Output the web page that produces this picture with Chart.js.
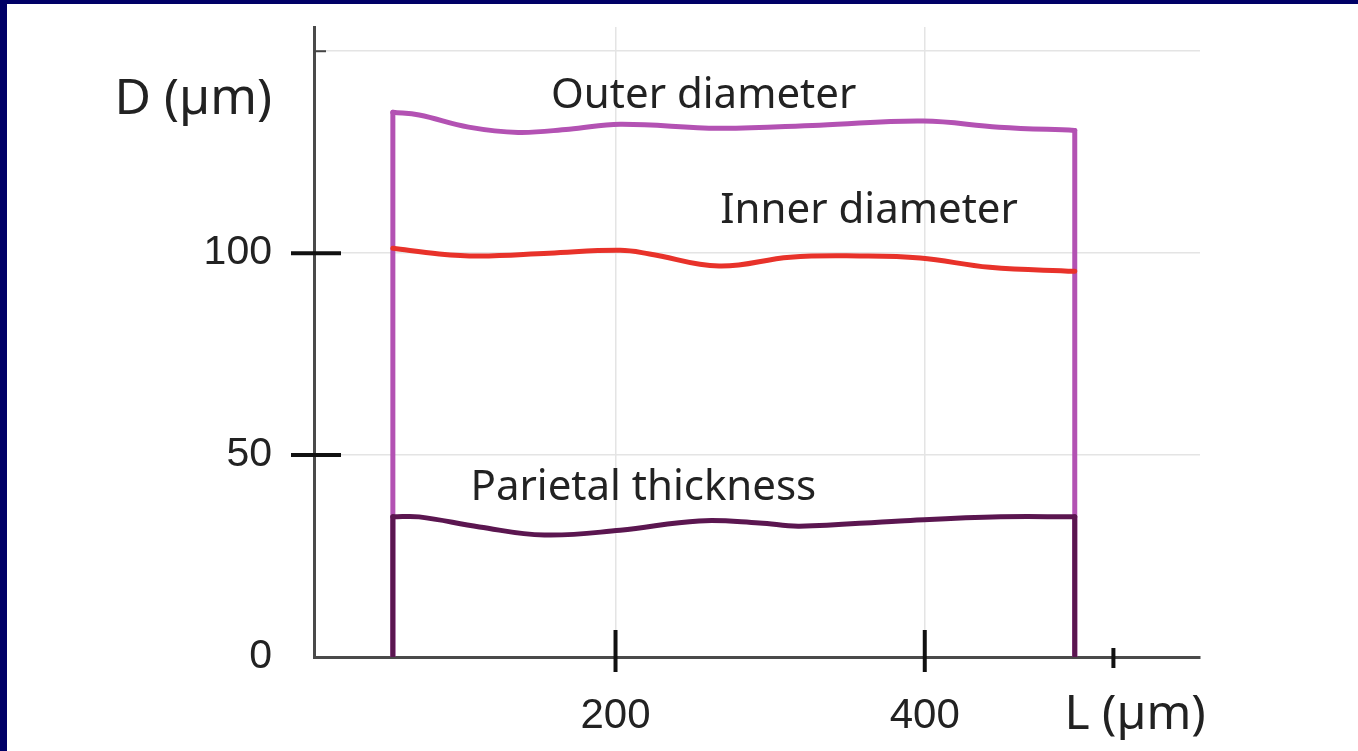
<!DOCTYPE html>
<html>
<head>
<meta charset="utf-8">
<script src="https://cdn.jsdelivr.net/npm/chart.js@4.4.1/dist/chart.umd.min.js"></script>
<style>
  html, body { margin: 0; padding: 0; background: #fff; }
  #wrap { position: relative; width: 1358px; height: 751px; overflow: hidden; }
  #chart { position: absolute; left: 0; top: 0; }
  .edge { position: absolute; background: #000066; }
</style>
</head>
<body>
<div id="wrap">
  <canvas id="chart" width="1358" height="751"></canvas>
  <div class="edge" style="left:0;top:0;width:1358px;height:4px"></div>
  <div class="edge" style="left:0;top:0;width:7px;height:751px"></div>
</div>
<script>
// 长度 L (µm)
const outerL = [56, 73, 105, 137, 170, 203, 267, 332, 399, 448, 497];
// 外径 D (µm)
const outerD = [134.9, 134.2, 131.2, 129.9, 130.7, 131.9, 130.9, 131.7, 132.7, 131.2, 130.4];

const innerL = [56, 86, 112, 157, 203, 222, 267, 313, 358, 397, 442, 497];
const innerD = [101.2, 99.8, 99.3, 100, 100.7, 99.8, 96.8, 99, 99.3, 98.8, 96.5, 95.5];

const wallL = [56, 73, 112, 154, 203, 254, 293, 319, 384, 449, 497];
const wallD = [34.7, 34.7, 32.2, 30.2, 31.4, 33.7, 33.2, 32.4, 33.7, 34.7, 34.7];

// 刻度
const xTicks = [200, 400, 522];
const xTickLabels = ['200', '400', ''];
const yTicks = [0, 50, 100, 150];
const yTickLabels = ['0', '50', '100', ''];

// 曲线标签
const curveLabels = ['Outer diameter', 'Inner diameter', 'Parietal thickness'];
const labelAt = [[257, 139], [364, 110.5], [218, 41.8]];

const OUTER = '#b352b3';
const INNER = '#e8322a';
const WALL = '#5b1650';
const INK = '#222';

const pts = (xs, ys) => xs.map((x, i) => ({ x, y: ys[i] }));
// 竖直边
const edge = (x, y) => [{ x, y: 0 }, { x, y }];

function line(data, color, tension) {
  return {
    data,
    borderColor: color,
    borderWidth: 5,
    pointRadius: 0,
    fill: false,
    tension,
    borderCapStyle: 'round',
    borderJoinStyle: 'round'
  };
}

const crossTicks = {
  id: 'crossTicks',
  afterDraw(chart) {
    const { ctx, chartArea, scales } = chart;
    ctx.save();
    ctx.lineCap = 'butt';
    // y 刻度
    yTicks.forEach(v => {
      if (v === 0) return;
      const py = scales.y.getPixelForValue(v);
      ctx.beginPath();
      if (v === 150) {
        ctx.lineWidth = 2;
        ctx.strokeStyle = '#444';
        ctx.moveTo(chartArea.left, py);
        ctx.lineTo(chartArea.left + 12, py);
      } else {
        ctx.lineWidth = 4;
        ctx.strokeStyle = '#111';
        ctx.moveTo(chartArea.left - 23, py);
        ctx.lineTo(chartArea.left + 27, py);
      }
      ctx.stroke();
    });
    // x 刻度
    xTicks.forEach((v, i) => {
      const px = scales.x.getPixelForValue(v);
      ctx.beginPath();
      ctx.lineWidth = 4;
      ctx.strokeStyle = '#111';
      if (xTickLabels[i]) {
        ctx.moveTo(px, chartArea.bottom - 27);
        ctx.lineTo(px, chartArea.bottom + 15);
      } else {
        ctx.moveTo(px, chartArea.bottom - 9);
        ctx.lineTo(px, chartArea.bottom + 11);
      }
      ctx.stroke();
    });

    // 曲线标签
    ctx.fillStyle = INK;
    ctx.textAlign = 'center';
    ctx.textBaseline = 'middle';
    ctx.font = '42px "Noto Sans"';
    curveLabels.forEach((t, i) => {
      ctx.fillText(t, scales.x.getPixelForValue(labelAt[i][0]), scales.y.getPixelForValue(labelAt[i][1]));
    });

    // 轴单位
    ctx.font = '50px "Noto Sans"';
    ctx.textAlign = 'right';
    ctx.fillText('D (\u00b5m)', chartArea.left - 42, scales.y.getPixelForValue(138));
    ctx.font = '48px "Noto Sans"';
    ctx.textAlign = 'center';
    ctx.fillText('L (\u00b5m)', scales.x.getPixelForValue(536), chartArea.bottom + 58);
    ctx.restore();
  }
};

new Chart(document.getElementById('chart'), {
  type: 'line',
  data: {
    // 先列出的数据集画在上层
    datasets: [
      line(edge(wallL[0], wallD[0]), WALL, 0),
      line(edge(wallL[wallL.length - 1], wallD[wallD.length - 1]), WALL, 0),
      line(pts(wallL, wallD), WALL, 0.4),
      line(pts(innerL, innerD), INNER, 0.4),
      line(edge(outerL[0], outerD[0]), OUTER, 0),
      line(edge(outerL[outerL.length - 1], outerD[outerD.length - 1]), OUTER, 0),
      line(pts(outerL, outerD), OUTER, 0.4)
    ]
  },
  options: {
    responsive: false,
    animation: false,
    layout: { autoPadding: false, padding: { top: 27, right: 158, left: 0, bottom: 0 } },
    plugins: { legend: { display: false }, tooltip: { enabled: false } },
    scales: {
      x: {
        type: 'linear',
        min: 5,
        max: 578,
        afterBuildTicks: s => { s.ticks = xTicks.map(value => ({ value })); },
        afterFit: s => { s.height = 94; s.paddingLeft = 0; s.paddingRight = 0; },
        border: { color: '#4a4a4a', width: 3 },
        grid: {
          drawTicks: false,
          lineWidth: 1.5,
          color: c => (c.tick && xTickLabels[xTicks.indexOf(c.tick.value)] ? '#e4e4e4' : 'rgba(0,0,0,0)')
        },
        ticks: {
          padding: 34,
          color: INK,
          font: { family: '"Liberation Sans", Arial', size: 42 },
          callback: (v) => xTickLabels[xTicks.indexOf(v)] ?? ''
        }
      },
      y: {
        min: 0,
        max: 156,
        afterBuildTicks: s => { s.ticks = yTicks.map(value => ({ value })); },
        afterFit: s => { s.width = 314; s.paddingTop = 0; s.paddingBottom = 0; },
        border: { color: '#4a4a4a', width: 3 },
        grid: {
          drawTicks: false,
          lineWidth: 1.5,
          color: c => (c.tick && c.tick.value > 0 ? '#e4e4e4' : 'rgba(0,0,0,0)')
        },
        ticks: {
          padding: 42,
          color: INK,
          font: { family: '"Liberation Sans", Arial', size: 41 },
          callback: (v) => yTickLabels[yTicks.indexOf(v)] ?? ''
        }
      }
    }
  },
  plugins: [crossTicks]
});
</script>
</body>
</html>
